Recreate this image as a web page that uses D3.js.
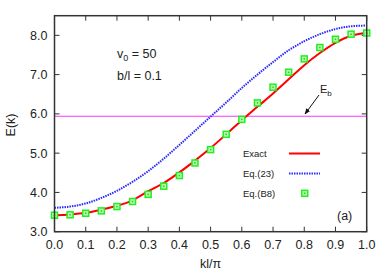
<!DOCTYPE html>
<html>
<head>
<meta charset="utf-8">
<script src="https://cdn.jsdelivr.net/npm/d3@7"></script>
<style>
  body { margin: 0; background: #fff; }
  text { font-family: "Liberation Sans", Arial, sans-serif; fill: #222; }
</style>
</head>
<body>
<div id="viz"></div>
<script>
// k l / pi sample points
var kValues = [0.0, 0.05, 0.1, 0.15, 0.2, 0.25, 0.3, 0.35, 0.4, 0.45, 0.5,
               0.55, 0.6, 0.65, 0.7, 0.75, 0.8, 0.85, 0.9, 0.95, 1.0];
// Exact band energy
var exactE = [3.42, 3.44, 3.48, 3.56, 3.66, 3.80, 4.03, 4.24, 4.51, 4.81, 5.13,
              5.48, 5.84, 6.18, 6.52, 6.88, 7.24, 7.55, 7.81, 7.99, 8.06];
// Eq.(23) approximation
var eq23E = [3.61, 3.64, 3.72, 3.86, 4.04, 4.27, 4.54, 4.86, 5.21, 5.57, 5.93,
             6.29, 6.66, 7.00, 7.32, 7.62, 7.85, 8.03, 8.16, 8.23, 8.25];
// Eq.(B8) points
var eqB8E = [3.42, 3.43, 3.47, 3.53, 3.64, 3.77, 3.95, 4.16, 4.43, 4.75, 5.09,
             5.48, 5.86, 6.28, 6.68, 7.06, 7.40, 7.69, 7.90, 8.03, 8.06];
var barrierE = 5.94;
var xTicks = [0, 0.1, 0.2, 0.3, 0.4, 0.5, 0.6, 0.7, 0.8, 0.9, 1.0];
var yTicks = [3, 4, 5, 6, 7, 8];

(function() {
var width = 390, height = 273;
var plotL = 54.5, plotR = 366.7, plotT = 15.7, plotB = 231.7;

var svg = d3.select("#viz").append("svg")
    .attr("width", width)
    .attr("height", height);

var x = d3.scaleLinear().domain([0, 1]).range([plotL, plotR]);
var y = d3.scaleLinear().domain([3, 8.5]).range([plotB, plotT]);

//ticks on all four sides, pointing inward
var tickLen = 5;
function tickLine(sel) { sel.attr("stroke", "#333").attr("stroke-width", 1); }

svg.append("g").selectAll("line").data(xTicks).enter().append("line")
    .attr("x1", function(d) { return x(d); }).attr("x2", function(d) { return x(d); })
    .attr("y1", plotB).attr("y2", plotB - tickLen).call(tickLine);
svg.append("g").selectAll("line").data(xTicks).enter().append("line")
    .attr("x1", function(d) { return x(d); }).attr("x2", function(d) { return x(d); })
    .attr("y1", plotT).attr("y2", plotT + tickLen).call(tickLine);
svg.append("g").selectAll("line").data(yTicks).enter().append("line")
    .attr("x1", plotL).attr("x2", plotL + tickLen)
    .attr("y1", function(d) { return y(d); }).attr("y2", function(d) { return y(d); }).call(tickLine);
svg.append("g").selectAll("line").data(yTicks).enter().append("line")
    .attr("x1", plotR).attr("x2", plotR - tickLen)
    .attr("y1", function(d) { return y(d); }).attr("y2", function(d) { return y(d); }).call(tickLine);

//tick labels
svg.append("g").selectAll("text").data(xTicks).enter().append("text")
    .attr("x", function(d) { return x(d); })
    .attr("y", 249)
    .attr("text-anchor", "middle")
    .attr("font-size", "12.5px")
    .text(function(d) { return d3.format(".1f")(d); });
svg.append("g").selectAll("text").data(yTicks).enter().append("text")
    .attr("x", plotL - 7)
    .attr("y", function(d) { return y(d) + 4.5; })
    .attr("text-anchor", "end")
    .attr("font-size", "12.5px")
    .text(function(d) { return d3.format(".1f")(d); });

//axis titles
svg.append("text")
    .attr("x", (plotL + plotR) / 2)
    .attr("y", 268)
    .attr("text-anchor", "middle")
    .attr("font-size", "12.5px")
    .text("kl/π");
svg.append("text")
    .attr("transform", "translate(15,125) rotate(-90)")
    .attr("text-anchor", "middle")
    .attr("font-size", "12.5px")
    .text("E(k)");

//barrier height
svg.append("line")
    .attr("x1", plotL).attr("x2", plotR)
    .attr("y1", y(barrierE)).attr("y2", y(barrierE))
    .attr("stroke", "#ff33ff").attr("stroke-width", 1);

var line = d3.line()
    .x(function(d, i) { return x(kValues[i]); })
    .y(function(d) { return y(d); })
    .curve(d3.curveMonotoneX);

svg.append("path")
    .attr("d", line(eq23E))
    .attr("fill", "none")
    .attr("stroke", "#2a2aff")
    .attr("stroke-width", 2)
    .attr("stroke-dasharray", "1.5,1");

svg.append("path")
    .attr("d", line(exactE))
    .attr("fill", "none")
    .attr("stroke", "#ff0000")
    .attr("stroke-width", 2);

//squares with a dot inside
function square(g, cx, cy) {
    g.append("rect")
        .attr("x", cx - 3).attr("y", cy - 3)
        .attr("width", 6).attr("height", 6)
        .attr("fill", "#b8ffb0")
        .attr("stroke", "#22ee22")
        .attr("stroke-width", 1.5);
    g.append("rect")
        .attr("x", cx - 0.75).attr("y", cy - 0.75)
        .attr("width", 1.5).attr("height", 1.5)
        .attr("fill", "#22cc22");
}
var pts = svg.append("g");
eqB8E.forEach(function(d, i) { square(pts, x(kValues[i]), y(d)); });

//frame
svg.append("rect")
    .attr("x", plotL).attr("y", plotT)
    .attr("width", plotR - plotL).attr("height", plotB - plotT)
    .attr("fill", "none")
    .attr("stroke", "#333")
    .attr("stroke-width", 1.5);

//parameters
var p1 = svg.append("text").attr("x", 117).attr("y", 58).attr("font-size", "12.5px");
p1.append("tspan").text("v");
p1.append("tspan").attr("dy", 3).attr("font-size", "9px").text("0");
p1.append("tspan").attr("dy", -3).text(" = 50");
svg.append("text").attr("x", 117).attr("y", 80).attr("font-size", "12.5px").text("b/l = 0.1");

//E_b annotation with arrow
var eb = svg.append("text").attr("x", 320).attr("y", 93).attr("font-size", "11px");
eb.append("tspan").text("E");
eb.append("tspan").attr("dy", 3).attr("font-size", "8px").text("b");
svg.append("defs").append("marker")
    .attr("id", "arrow").attr("viewBox", "0 0 10 10")
    .attr("refX", 9).attr("refY", 5)
    .attr("markerWidth", 6).attr("markerHeight", 6)
    .attr("orient", "auto")
    .append("path").attr("d", "M0,1 L10,5 L0,9 Z").attr("fill", "#111");
svg.append("line")
    .attr("x1", 319).attr("y1", 95).attr("x2", 305).attr("y2", 114)
    .attr("stroke", "#111").attr("stroke-width", 1)
    .attr("marker-end", "url(#arrow)");

//legend
var legend = [
    { name: "Exact", y: 153.5 },
    { name: "Eq.(23)", y: 173.5 },
    { name: "Eq.(B8)", y: 193.3 }
];
svg.append("g").selectAll("text").data(legend).enter().append("text")
    .attr("x", 243)
    .attr("y", function(d) { return d.y + 3.3; })
    .attr("font-size", "9.5px")
    .text(function(d) { return d.name; });
svg.append("line").attr("x1", 289).attr("x2", 320).attr("y1", legend[0].y).attr("y2", legend[0].y)
    .attr("stroke", "#ff0000").attr("stroke-width", 2);
svg.append("line").attr("x1", 289).attr("x2", 320).attr("y1", legend[1].y).attr("y2", legend[1].y)
    .attr("stroke", "#2a2aff").attr("stroke-width", 2).attr("stroke-dasharray", "1.5,1");
square(svg.append("g"), 304.7, legend[2].y);

svg.append("text").attr("x", 337).attr("y", 220).attr("font-size", "12.5px").text("(a)");
})();
</script>
</body>
</html>
